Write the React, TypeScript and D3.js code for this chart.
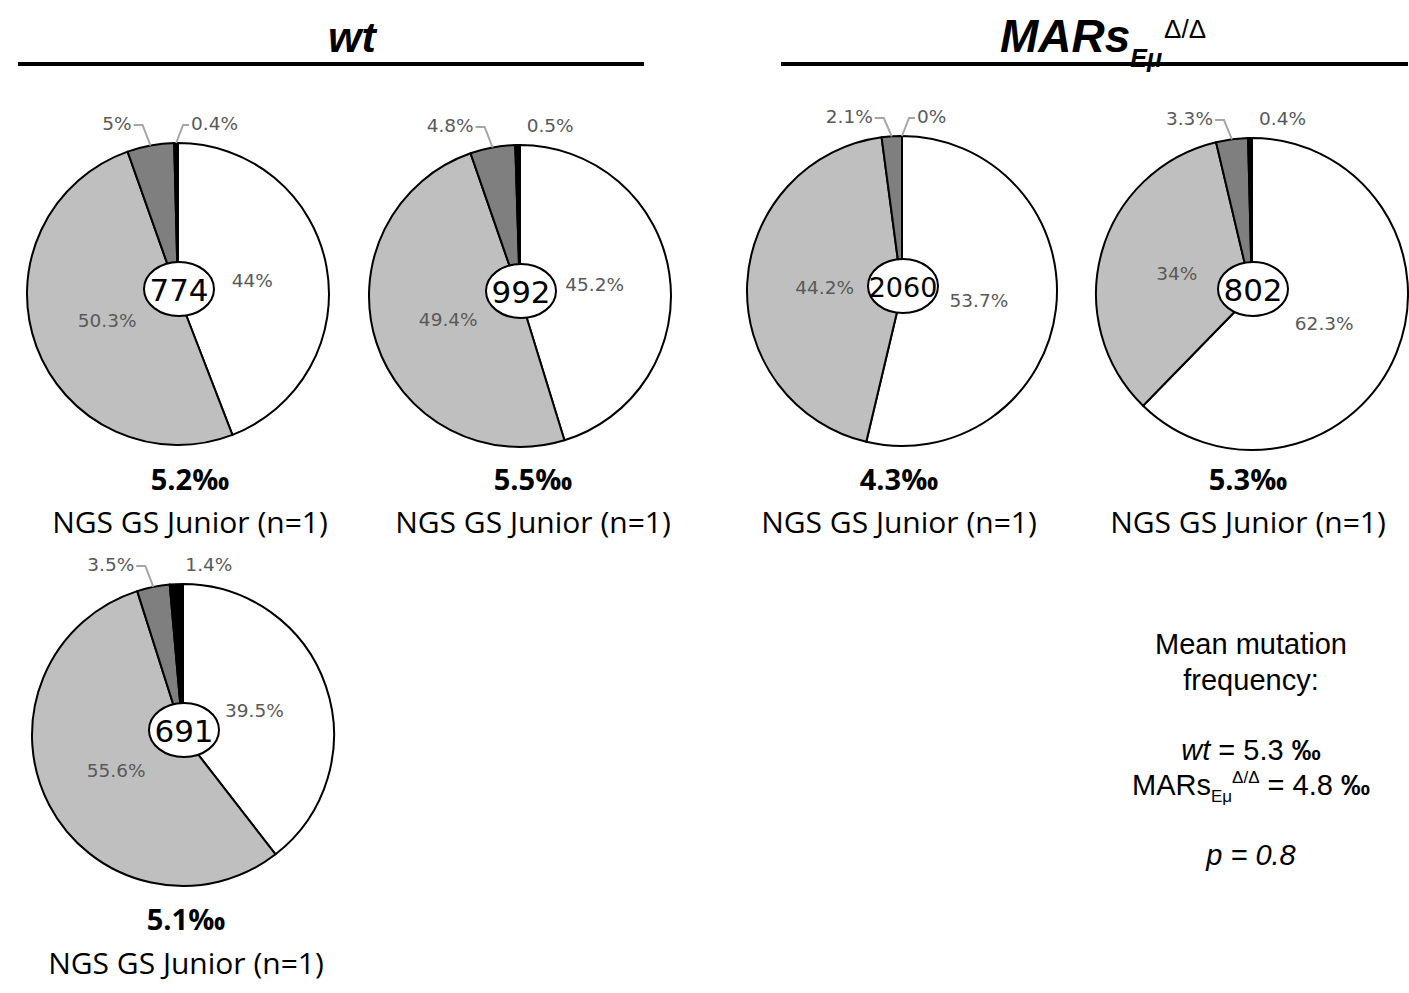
import React from 'react';
import * as d3 from 'd3';

// one entry per pie, in reading order
const sampleSizes = [774, 992, 2060, 802, 691];
const unmutated = [44, 45.2, 53.7, 62.3, 39.5];
const oneMutation = [50.3, 49.4, 44.2, 34, 55.6];
const twoMutations = [5, 4.8, 2.1, 3.3, 3.5];
const threePlus = [0.4, 0.5, 0, 0.4, 1.4];
const frequencies = ['5.2', '5.5', '4.3', '5.3', '5.1'];
const platformLabel = 'NGS GS Junior (n=1)';

const meanWt = '5.3';
const meanMars = '4.8';
const pValue = '0.8';

const sliceColors = ['#ffffff', '#bfbfbf', '#7f7f7f', '#000000'];

// layout
const pieLayout = [
  { cx: 178, cy: 294, r: 151, row: 0, textCx: 190, blackLeader: true },
  { cx: 520, cy: 296, r: 151, row: 0, textCx: 533, blackLeader: false },
  { cx: 902, cy: 291, r: 155, row: 0, textCx: 899, blackLeader: true },
  { cx: 1252, cy: 294, r: 156, row: 0, textCx: 1248, blackLeader: false },
  { cx: 183, cy: 735, r: 151, row: 1, textCx: 186, blackLeader: false },
];
const freqBaseline = [490, 930];
const platformBaseline = [533, 974];

const pctFont = '"DejaVu Sans", Verdana, sans-serif';
const bodyFont = '"Open Sans", "Noto Sans", sans-serif';
const arialFont = '"Liberation Sans", Arial, sans-serif';
const pctSize = 18.5;

function Pie({ i }: { i: number }) {
  const { cx, cy, r, row, textCx, blackLeader } = pieLayout[i];
  const values = [unmutated[i], oneMutation[i], twoMutations[i], threePlus[i]];
  const arcs = d3.pie<number>().sort(null).value(d => d)(values);
  const arc = d3.arc<d3.PieArcDatum<number>>().innerRadius(0).outerRadius(r);
  const labelArc = d3.arc<d3.PieArcDatum<number>>().innerRadius(r * 0.5).outerRadius(r * 0.5);

  const edge = (a: d3.PieArcDatum<number>) => {
    const m = (a.startAngle + a.endAngle) / 2;
    return [Math.sin(m) * r, -Math.cos(m) * r];
  };
  const topY = -r - 13;

  const [dx, dy] = edge(arcs[2]);
  const [bx, by] = edge(arcs[3]);

  const n = String(sampleSizes[i]).length;
  const numSize = n > 3 ? 27 : 31;

  return (
    <g transform={`translate(${cx},${cy})`}>
      {arcs.map((a, k) => (
        <path key={k} d={arc(a) || ''} fill={sliceColors[k]} stroke="#000" strokeWidth={2} strokeLinejoin="round" />
      ))}
      {arcs.slice(0, 2).map((a, k) => {
        const [lx, ly] = labelArc.centroid(a);
        return (
          <text key={k} x={lx} y={ly} textAnchor="middle" dominantBaseline="central"
            fontFamily={pctFont} fontSize={pctSize} fill="#595959">{`${values[k]}%`}</text>
        );
      })}
      {/* small slices labelled above the pie */}
      <polyline points={`${dx},${dy} ${dx - 8},${topY - 5} ${dx - 17},${topY - 5}`} fill="none" stroke="#a6a6a6" strokeWidth={2} />
      <text x={dx - 19} y={topY} textAnchor="end" fontFamily={pctFont} fontSize={pctSize} fill="#595959">{`${values[2]}%`}</text>
      {blackLeader && (
        <polyline points={`${bx},${by} ${bx + 7},${topY - 5} ${bx + 13},${topY - 5}`} fill="none" stroke="#a6a6a6" strokeWidth={2} />
      )}
      <text x={bx + (blackLeader ? 15 : 9)} y={topY} textAnchor="start" fontFamily={pctFont} fontSize={pctSize} fill="#595959">{`${values[3]}%`}</text>

      <ellipse cx={1} cy={-5} rx={35} ry={27} fill="#fff" stroke="#000" strokeWidth={2} />
      <text x={1} y={-4} textAnchor="middle" dominantBaseline="central" fontFamily={pctFont} fontSize={numSize} fill="#000">{sampleSizes[i]}</text>

      <text x={textCx - cx} y={freqBaseline[row] - cy} textAnchor="middle" fontFamily={bodyFont} fontWeight="bold" fontSize={29} fill="#000">{`${frequencies[i]}‰`}</text>
      <text x={textCx - cx} y={platformBaseline[row] - cy} textAnchor="middle" fontFamily={bodyFont} fontSize={30} fill="#000">{platformLabel}</text>
    </g>
  );
}

export default function App() {
  return (
    <svg width={1409} height={993} style={{ position: 'absolute', left: 0, top: 0, background: '#fff' }}>
      <rect width={1409} height={993} fill="#fff" />
      {/* group headers */}
      <text x={352} y={52} textAnchor="middle" fontFamily={arialFont} fontWeight="bold" fontStyle="italic" fontSize={43}>wt</text>
      <line x1={18} x2={644} y1={64} y2={64} stroke="#000" strokeWidth={4} />
      <text x={1000} y={52} fontFamily={arialFont} fontWeight="bold" fontStyle="italic" fontSize={46}>
        MARs
        <tspan fontSize={25} dy={15}>Eμ</tspan>
        <tspan fontSize={26} fontWeight="normal" fontStyle="normal" dx={2} dy={-29}>Δ/Δ</tspan>
      </text>
      <line x1={781} x2={1408} y1={64} y2={64} stroke="#000" strokeWidth={4} />

      {sampleSizes.map((_, i) => <Pie key={i} i={i} />)}

      <g fontFamily={arialFont} fontSize={29} textAnchor="middle" fill="#000">
        <text x={1251} y={654}>Mean mutation</text>
        <text x={1251} y={690}>frequency:</text>
        <text x={1251} y={760}>
          <tspan fontStyle="italic">wt</tspan> = {meanWt} <tspan fontWeight="bold">‰</tspan>
        </text>
        <text x={1251} y={795}>
          MARs<tspan fontSize={17} dy={7}>Eμ</tspan><tspan fontSize={17} dy={-19}>Δ/Δ</tspan><tspan dy={12}> = {meanMars} </tspan><tspan fontWeight="bold">‰</tspan>
        </text>
        <text x={1251} y={865} fontStyle="italic">p = {pValue}</text>
      </g>
    </svg>
  );
}
